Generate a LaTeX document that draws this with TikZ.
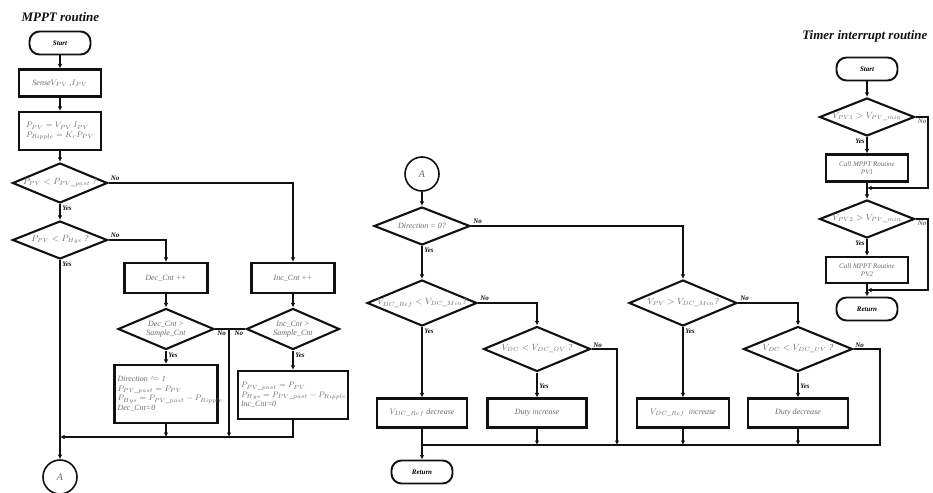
\documentclass[tikz,border=0pt]{standalone}
\usepackage{fontspec}
\setmainfont{Liberation Serif}
\usetikzlibrary{arrows.meta}
\usetikzlibrary{shapes.geometric}
\definecolor{fcink}{HTML}{111111}
\definecolor{fctext}{HTML}{6A6A6A}
\tikzset{
  fcbox/.style={
    draw=fcink, line width=2.1pt, inner sep=2pt,
    font=\itshape\footnotesize, text=fctext},
  fcdec/.style={
    draw=fcink, diamond, aspect=2.4, line width=2.1pt, inner sep=0pt,
    font=\itshape\small, text=fctext},
  fcterm/.style={
    draw=fcink, line width=1.9pt, rounded corners=10pt,
    minimum width=61pt, minimum height=23pt, font=\bfseries\itshape\scriptsize},
  fcconn/.style={
    draw=fcink, circle, line width=1.6pt, minimum size=34pt, inner sep=0pt,
    font=\itshape\normalsize, text=fctext},
  fcline/.style={draw=fcink, line width=1.6pt},
  fcarrow/.style={fcline, -{Latex[length=4.5pt, width=4.5pt]}},
  fclabel/.style={font=\bfseries\itshape\scriptsize, text=fcink, inner sep=1.5pt},
  fctitle/.style={font=\bfseries\itshape\fontsize{13}{15}\selectfont, text=fcink},
}

\begin{document}
\begin{tikzpicture}[x=1pt, y=-1pt]
\useasboundingbox (0,0) rectangle (933,492);

% MPPT routine.
\node[fctitle, anchor=west] (mppttitle) at (18,17) {MPPT routine};
\node[fcterm] (mstart) at (60,43) {Start};
\node[fcbox, minimum width=82pt, minimum height=27pt] (sense) at (60,83)
  {Sense$V_{PV}$ ,$I_{PV}$};
\node[fcbox, minimum width=82pt, minimum height=38pt, align=left] (power)
  at (60,131) {$P_{PV} = V_{PV}\, I_{PV}$\\ $P_{Ripple} = K_r P_{PV}$};
\node[fcdec, minimum width=95pt, minimum height=40pt] (pastcmp) at (60,183)
  {$P_{PV} < P_{PV\_past}$ ?};
\node[fcdec, minimum width=95pt, minimum height=38pt] (hyscmp) at (60,240)
  {$P_{PV} < P_{Hys}$ ?};
\node[fcbox, minimum width=83pt, minimum height=30pt] (deccnt) at (166,278)
  {Dec\_Cnt ++};
\node[fcbox, minimum width=83pt, minimum height=30pt] (inccnt) at (293,278)
  {Inc\_Cnt ++};
\node[fcdec, minimum width=96pt, minimum height=41pt, align=center,
      font=\itshape\footnotesize] (deccmp) at (166,329)
  {Dec\_Cnt >\\ Sample\_Cnt};
\node[fcdec, minimum width=93pt, minimum height=41pt, align=center,
      font=\itshape\footnotesize] (inccmp) at (293,329)
  {Inc\_Cnt >\\ Sample\_Cnt};
\node[fcbox, minimum width=103pt, minimum height=58pt, align=left,
      text width=97pt] (decres) at (166,394)
  {Direction \textasciicircum= 1\\ $P_{PV\_past} = P_{PV}$\\
   \mbox{$P_{Hys} = P_{PV\_past} - P_{Ripple}$}\\ Dec\_Cnt=0};
\node[fcbox, minimum width=110pt, minimum height=48pt, align=left,
      text width=104pt] (incres) at (293,395)
  {$P_{PV\_past} = P_{PV}$\\ \mbox{$P_{Hys} = P_{PV\_past} - P_{Ripple}$}\\
   Inc\_Cnt=0};
\node[fcconn] (conA) at (60,477) {A};
\coordinate (nojoin) at (229,329);
\coordinate (bus) at (60,437);

\draw[fcarrow] (mstart) -- (sense);
\draw[fcarrow] (sense) -- (power);
\draw[fcarrow] (power) -- (pastcmp);
\draw[fcarrow] (pastcmp) -- (hyscmp)
  node[fclabel, pos=0, below right] {Yes};
\draw[fcarrow] (pastcmp.east) -| (inccnt.north)
  node[fclabel, pos=0, above right] {No};
\draw[fcarrow] (hyscmp.east) -| (deccnt.north)
  node[fclabel, pos=0, above right] {No};
\draw[fcarrow] (hyscmp) -- (conA)
  node[fclabel, pos=0, below right] {Yes};
\draw[fcarrow] (deccnt) -- (deccmp);
\draw[fcarrow] (inccnt) -- (inccmp);
\draw[fcarrow] (deccmp) -- (decres)
  node[fclabel, pos=0, below right] {Yes};
\draw[fcarrow] (inccmp) -- (incres)
  node[fclabel, pos=0, below right] {Yes};
\draw[fcline] (deccmp.east) -- (nojoin)
  node[fclabel, pos=0, below right] {No};
\draw[fcline] (inccmp.west) -- (nojoin)
  node[fclabel, pos=0, below left] {No};
\draw[fcarrow] (nojoin) -- (nojoin |- bus);
\draw[fcarrow] (decres) -- (decres |- bus);
\draw[fcarrow] (incres) |- (bus);

% Direction handling after A.
\node[fcconn] (conB) at (422,174) {A};
\node[fcdec, minimum width=96pt, minimum height=38pt, aspect=2.5,
      font=\itshape\footnotesize] (dircmp) at (422,226) {Direction = 0?};
\node[fcdec, minimum width=108pt, minimum height=46pt] (refcmp)
  at (422,303) {$V_{DC\_Ref} < V_{DC\_Min}$?};
\node[fcdec, minimum width=108pt, minimum height=46pt] (pvcmp)
  at (683,303) {$V_{PV} > V_{DC\_Min}$?};
\node[fcdec, minimum width=107pt, minimum height=45pt] (ovcmp)
  at (537,349) {$V_{DC} < V_{DC\_OV}$ ?};
\node[fcdec, minimum width=109pt, minimum height=45pt] (uvcmp)
  at (798,349) {$V_{DC} < V_{DC\_UV}$ ?};
\node[fcbox, minimum width=90pt, minimum height=29pt] (refdec) at (422,413)
  {$V_{DC\_Ref}$ decrease};
\node[fcbox, minimum width=99pt, minimum height=29pt] (dutyinc) at (537,413)
  {Duty increase};
\node[fcbox, minimum width=92pt, minimum height=29pt] (refinc) at (683,413)
  {$V_{DC\_Ref}$ \ increase};
\node[fcbox, minimum width=100pt, minimum height=29pt] (dutydec) at (798,413)
  {Duty decrease};
\node[fcterm] (mreturn) at (422,472) {Return};
\coordinate (ovno) at (617,349);
\coordinate (bus2) at (422,445);
\coordinate (bus2end) at (880,445);

\draw[fcarrow] (conB) -- (dircmp);
\draw[fcarrow] (dircmp) -- (refcmp)
  node[fclabel, pos=0, below right] {Yes};
\draw[fcarrow] (dircmp.east) -| (pvcmp.north)
  node[fclabel, pos=0, above right] {No};
\draw[fcarrow] (refcmp.east) -| (ovcmp.north)
  node[fclabel, pos=0, above right] {No};
\draw[fcarrow] (pvcmp.east) -| (uvcmp.north)
  node[fclabel, pos=0, above right] {No};
\draw[fcarrow] (refcmp) -- (refdec)
  node[fclabel, pos=0, below right] {Yes};
\draw[fcarrow] (ovcmp) -- (dutyinc)
  node[fclabel, pos=0.55, right] {Yes};
\draw[fcarrow] (pvcmp) -- (refinc)
  node[fclabel, pos=0, below right] {Yes};
\draw[fcarrow] (uvcmp) -- (dutydec)
  node[fclabel, pos=0.55, right] {Yes};
\draw[fcarrow] (ovcmp.east) -- (ovno) -- (ovno |- bus2);
\draw[fcline] (uvcmp.east) -| (bus2end) -- (bus2);
\draw[fcarrow] (dutyinc) -- (dutyinc |- bus2);
\draw[fcarrow] (refinc) -- (refinc |- bus2);
\draw[fcarrow] (dutydec) -- (dutydec |- bus2);
\draw[fcarrow] (refdec) -- (mreturn);
\node[fclabel, anchor=south west] (ovnolabel) at (ovcmp.east) {No};
\node[fclabel, anchor=south west] (uvnolabel) at (uvcmp.east) {No};

% Timer interrupt routine.
\node[fctitle, anchor=east] (timertitle) at (931,36) {Timer interrupt routine};
\node[fcterm] (tstart) at (867,69) {Start};
\node[fcdec, minimum width=95pt, minimum height=38pt] (pv1cmp) at (867,117)
  {$V_{PV1} > V_{PV\_min}$};
\node[fcbox, minimum width=82pt, minimum height=27pt, align=center,
      font=\itshape\scriptsize] (call1) at (867,168)
  {Call MPPT Routine\\ PV1};
\node[fcdec, minimum width=95pt, minimum height=38pt] (pv2cmp) at (867,219)
  {$V_{PV2} > V_{PV\_min}$};
\node[fcbox, minimum width=82pt, minimum height=26pt, align=center,
      font=\itshape\scriptsize] (call2) at (867,270)
  {Call MPPT Routine\\ PV2};
\node[fcterm] (treturn) at (867,309) {Return};
\coordinate (tjoin1) at (867,188);
\coordinate (tside1) at (928,188);
\coordinate (tjoin2) at (867,290);
\coordinate (tside2) at (928,290);

\draw[fcarrow] (tstart) -- (pv1cmp);
\draw[fcarrow] (pv1cmp) -- (call1)
  node[fclabel, pos=0, below left] {Yes};
\draw[fcarrow] (call1) -- (pv2cmp);
\draw[fcarrow] (pv2cmp) -- (call2)
  node[fclabel, pos=0, below left] {Yes};
\draw[fcarrow] (call2) -- (treturn);
\draw[fcarrow] (pv1cmp.east) -| (tside1) -- (tjoin1);
\draw[fcarrow] (pv2cmp.east) -| (tside2) -- (tjoin2);
\node[fclabel, anchor=north east, text=fctext] (tno1) at (928,117) {No};
\node[fclabel, anchor=north east, text=fctext] (tno2) at (928,219) {No};

\end{tikzpicture}
\end{document}
